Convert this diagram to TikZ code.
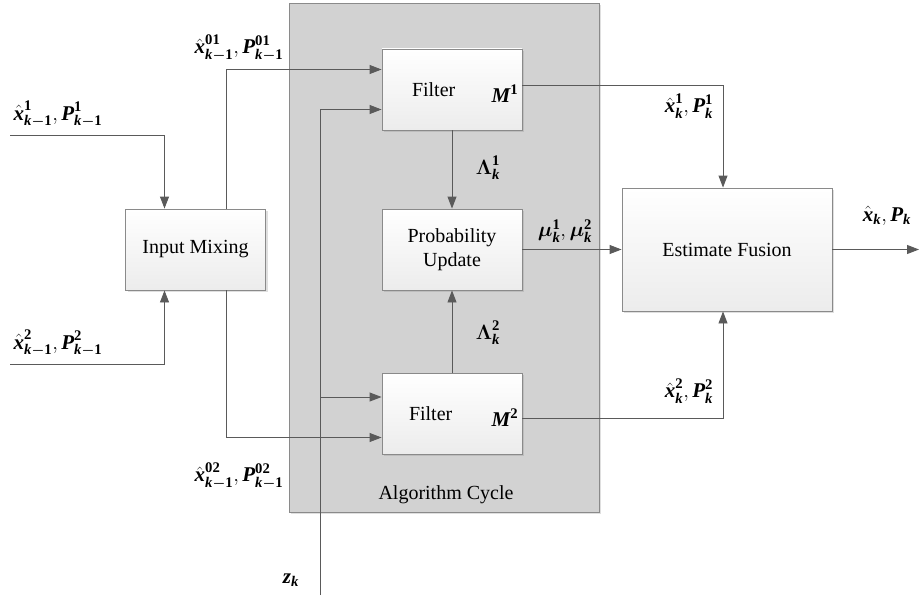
\documentclass[tikz,border=0pt]{standalone}
\usepackage{amsmath}
\usepackage{fontspec}
\setmainfont{Liberation Serif}
\usepackage{bm}
\usetikzlibrary{arrows.meta,shadows}
\definecolor{linegray}{HTML}{5A5A5A}
\definecolor{boxgray}{HTML}{8A8A8A}
\definecolor{cyclegray}{HTML}{D2D2D2}
% bold italic letters and bold digits in the labels
\newcommand{\bv}[1]{\text{\rmfamily\bfseries\itshape #1}}
\newcommand{\bd}[1]{\text{\rmfamily\bfseries #1}}
\newcommand{\bsub}{\bv{k}\bm{-}\bd{1}}
\begin{document}
\begin{tikzpicture}[x=1pt, y=-1pt, >={Triangle[length=12pt,width=9pt]},
    every node/.style={font=\rmfamily\fontsize{20}{24}\selectfont},
    block/.style={draw=boxgray, line width=0.9pt, minimum width=140pt,
        minimum height=81pt, top color=white, bottom color=gray!15,
        drop shadow={opacity=0.25, shadow xshift=2pt, shadow yshift=-2pt}},
    conn/.style={->, draw=linegray, line width=0.9pt},
    lbl/.style={font=\rmfamily\fontsize{21}{24}\selectfont, inner sep=1pt}]
    \useasboundingbox (0,0) rectangle (920,599);

    % algorithm cycle
    \node[draw=boxgray, fill=cyclegray, line width=0.9pt, minimum width=310pt,
        minimum height=509pt,
        drop shadow={opacity=0.25, shadow xshift=2pt, shadow yshift=-2pt}]
        (cycle) at (444,257.5) {};
    \node (cyclename) at (446,495) {Algorithm Cycle};

    % blocks
    \node[block] (mix) at (195.5,249.5) {Input Mixing};
    \node[block, text width=120pt] (filterA) at (452,89.5) {\hspace*{20pt}Filter};
    \node[block, align=center] (prob) at (452,249.5) {Probability\\Update};
    \node[block, text width=120pt] (filterB) at (452,413.5) {\hspace*{17pt}Filter};
    \node[block, minimum width=210pt, minimum height=123pt] (fusion)
        at (727,249.5) {Estimate Fusion};
    \node[lbl, anchor=east] (modelA) at ([xshift=-3pt,yshift=-4pt]filterA.east) {$\bv{M}^{\bd{1}}$};
    \node[lbl, anchor=east] (modelB) at ([xshift=-3pt,yshift=-4pt]filterB.east) {$\bv{M}^{\bd{2}}$};

    % free ends
    \coordinate (inA) at (10,135);
    \coordinate (inB) at (10,364);
    \coordinate (zk) at (320,595);
    \coordinate (zbranch) at (320,397);
    \coordinate (out) at (919,249.5);

    % connectors
    \draw[conn] (inA) -| ([xshift=-31pt]mix.north);
    \draw[conn] (inB) -| ([xshift=-31pt]mix.south);
    \draw[conn] ([xshift=31pt]mix.north) |- ([yshift=20pt]filterA.west);
    \draw[conn] ([xshift=31pt]mix.south) |- ([yshift=-24pt]filterB.west);
    \draw[conn] (zk) |- ([yshift=-20pt]filterA.west);
    \draw[conn] (zbranch) -- (zbranch -| filterB.west);
    \draw[conn] (filterA) -- (prob);
    \draw[conn] (filterB) -- (prob);
    \draw[conn] (prob) -- (fusion);
    \draw[conn] ([yshift=4pt]filterA.east) -| ([xshift=-4pt]fusion.north);
    \draw[conn] ([yshift=-5pt]filterB.east) -| ([xshift=-4pt]fusion.south);
    \draw[conn] (fusion) -- (out);

    % labels
    \node[lbl] (mixinA) at (58,114) {$\hat{\bv{x}}^{\bd{1}}_{\bsub},\bv{P}^{\bd{1}}_{\bsub}$};
    \node[lbl] (mixinB) at (58,343) {$\hat{\bv{x}}^{\bd{2}}_{\bsub},\bv{P}^{\bd{2}}_{\bsub}$};
    \node[lbl] (mixoutA) at (239,48) {$\hat{\bv{x}}^{\bd{01}}_{\bsub},\bv{P}^{\bd{01}}_{\bsub}$};
    \node[lbl] (mixoutB) at (239,476) {$\hat{\bv{x}}^{\bd{02}}_{\bsub},\bv{P}^{\bd{02}}_{\bsub}$};
    \node[lbl] (zlabel) at (291,580) {$\bv{z}_{\bv{k}}$};
    \node[lbl] (likeA) at (488,168) {$\bm{\Lambda}^{\bd{1}}_{\bv{k}}$};
    \node[lbl] (likeB) at (488,333) {$\bm{\Lambda}^{\bd{2}}_{\bv{k}}$};
    \node[lbl] (weights) at (565,231) {$\bm{\mu}^{\bd{1}}_{\bv{k}},\bm{\mu}^{\bd{2}}_{\bv{k}}$};
    \node[lbl] (estA) at (689,106) {$\hat{\bv{x}}^{\bd{1}}_{\bv{k}},\bv{P}^{\bd{1}}_{\bv{k}}$};
    \node[lbl] (estB) at (689,391) {$\hat{\bv{x}}^{\bd{2}}_{\bv{k}},\bv{P}^{\bd{2}}_{\bv{k}}$};
    \node[lbl] (est) at (887,216) {$\hat{\bv{x}}_{\bv{k}},\bv{P}_{\bv{k}}$};
\end{tikzpicture}
\end{document}
